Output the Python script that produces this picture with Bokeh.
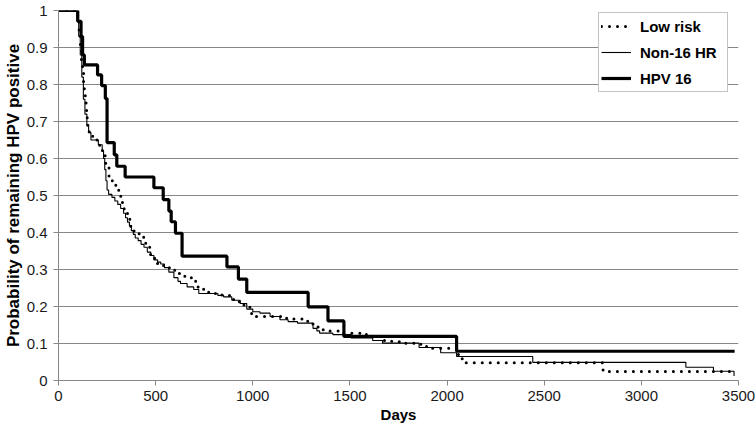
from bokeh.plotting import figure
from bokeh.models import FixedTicker, Range1d, Legend, LegendItem
from bokeh.embed import file_html
from bokeh.resources import INLINE

# ---- data (Kaplan-Meier style step curves) ----
low_days = [0, 99, 106, 113, 118, 124, 129, 133, 138, 142, 146, 150, 158, 167, 184, 200, 212, 226, 240, 243,
            260, 277, 295, 310, 321, 338, 355, 372, 389, 415, 449, 474, 495, 510, 540, 568, 590, 611, 640, 679,
            705, 713, 747, 773, 841, 880, 901, 935, 961, 985, 994, 1157, 1191, 1259, 1285, 1310, 1336, 1378,
            1440, 1583, 1617, 1668, 1703, 1754, 1865, 1899, 2052, 2078, 2095, 2803, 3477]
low_prob = [1.0, 0.97, 0.93, 0.90, 0.86, 0.83, 0.80, 0.78, 0.755, 0.73, 0.71, 0.69, 0.67, 0.66, 0.65, 0.641,
            0.632, 0.614, 0.595, 0.579, 0.552, 0.534, 0.516, 0.498, 0.481, 0.463, 0.436, 0.414, 0.400, 0.387,
            0.360, 0.335, 0.324, 0.315, 0.311, 0.305, 0.298, 0.289, 0.282, 0.278, 0.268, 0.253, 0.244, 0.235,
            0.231, 0.220, 0.213, 0.204, 0.199, 0.185, 0.173, 0.168, 0.166, 0.160, 0.155, 0.148, 0.137, 0.134,
            0.128, 0.124, 0.119, 0.108, 0.106, 0.101, 0.092, 0.087, 0.070, 0.057, 0.048, 0.024, 0.020]

hr_days = [0, 96, 104, 112, 120, 128, 136, 146, 155, 167, 205, 225, 232, 238, 244, 250, 258, 275, 290, 305,
           320, 335, 345, 355, 365, 375, 385, 395, 410, 425, 440, 457, 475, 491, 510, 526, 545, 568, 594, 615,
           628, 662, 696, 722, 820, 850, 892, 935, 969, 1000, 1037, 1089, 1140, 1182, 1230, 1310, 1330, 1344,
           1412, 1506, 1617, 1668, 1856, 1967, 2049, 2441, 3229, 3371, 3477]
hr_prob = [1.0, 0.97, 0.93, 0.88, 0.82, 0.76, 0.72, 0.69, 0.67, 0.650, 0.637, 0.62, 0.60, 0.57, 0.54, 0.515,
           0.503, 0.495, 0.485, 0.476, 0.465, 0.452, 0.440, 0.428, 0.418, 0.405, 0.395, 0.385, 0.378, 0.368,
           0.360, 0.347, 0.338, 0.326, 0.320, 0.315, 0.305, 0.293, 0.278, 0.268, 0.262, 0.253, 0.246, 0.235,
           0.230, 0.226, 0.217, 0.208, 0.193, 0.186, 0.182, 0.173, 0.164, 0.159, 0.155, 0.141, 0.134, 0.128,
           0.124, 0.115, 0.108, 0.101, 0.089, 0.075, 0.065, 0.049, 0.036, 0.025, 0.012]

hpv16_days = [0, 99, 116, 124, 133, 201, 222, 241, 250, 287, 300, 343, 491, 539, 568, 580, 602, 636, 867, 926,
              969, 1285, 1387, 1469, 2049, 3480]
hpv16_prob = [1.0, 0.971, 0.93, 0.88, 0.853, 0.826, 0.797, 0.762, 0.643, 0.610, 0.579, 0.550, 0.521, 0.489,
              0.458, 0.429, 0.398, 0.336, 0.307, 0.274, 0.238, 0.199, 0.161, 0.119, 0.079, 0.079]

series_names = ["Low risk", "Non-16 HR", "HPV 16"]

x_ticks = [0, 500, 1000, 1500, 2000, 2500, 3000, 3500]
y_ticks = [0, 0.1, 0.2, 0.3, 0.4, 0.5, 0.6, 0.7, 0.8, 0.9, 1]
y_tick_labels = ["0", "0.1", "0.2", "0.3", "0.4", "0.5", "0.6", "0.7", "0.8", "0.9", "1"]

FONT = "Liberation Sans"
GREY = "#878787"
TEXT = "#1a1a1a"

p = figure(width=755, height=429, output_backend="svg", toolbar_location=None,
           x_range=Range1d(0, 3500), y_range=Range1d(0, 1),
           min_border_left=54, min_border_right=17, min_border_top=10, min_border_bottom=49)
p.outline_line_color = None
p.background_fill_color = "white"
p.border_fill_color = "white"

r_low = p.step(low_days, low_prob, mode="after", line_color="black", line_width=3,
               line_dash="0 8", line_cap="round")
r_hr = p.step(hr_days, hr_prob, mode="after", line_color="black", line_width=1.1)
r_16 = p.step(hpv16_days, hpv16_prob, mode="after", line_color="black", line_width=3.2)

# axes
p.xaxis.ticker = FixedTicker(ticks=x_ticks)
p.yaxis.ticker = FixedTicker(ticks=y_ticks)
p.yaxis.major_label_overrides = {t: l for t, l in zip(y_ticks, y_tick_labels)}
for ax in (p.xaxis[0], p.yaxis[0]):
    ax.axis_line_color = GREY
    ax.major_tick_line_color = GREY
    ax.minor_tick_line_color = None
    ax.major_tick_in = 0
    ax.major_tick_out = 5
    ax.major_label_text_font = FONT
    ax.major_label_text_font_size = "15px"
    ax.major_label_text_color = TEXT
    ax.axis_label_text_font = FONT
    ax.axis_label_text_font_style = "bold"
    ax.axis_label_text_color = "black"
p.xaxis.axis_label = "Days"
p.yaxis.axis_label = "Probability of remaining HPV positive"
p.xaxis.axis_label_text_font_size = "15px"
p.yaxis.axis_label_text_font_size = "17px"
p.xaxis.major_label_standoff = 5
p.xaxis.axis_label_standoff = 2
p.yaxis.major_label_standoff = 6
p.yaxis.axis_label_standoff = 1

p.xgrid.grid_line_color = None
p.ygrid.grid_line_color = GREY
p.ygrid.grid_line_width = 1

legend = Legend(items=[LegendItem(label=series_names[0], renderers=[r_low]),
                       LegendItem(label=series_names[1], renderers=[r_hr]),
                       LegendItem(label=series_names[2], renderers=[r_16])],
                location=(540, 288))
legend.border_line_color = GREY
legend.border_line_width = 1
legend.background_fill_color = "white"
legend.background_fill_alpha = 1
legend.label_text_font = FONT
legend.label_text_font_style = "bold"
legend.label_text_font_size = "15px"
legend.label_text_color = "black"
legend.glyph_width = 30
legend.glyph_height = 22
legend.label_height = 22
legend.label_width = 85
legend.spacing = 4
legend.padding = 2
legend.label_standoff = 9
legend.margin = 0
p.add_layout(legend, "center")

open("out.html", "w").write(file_html(p, INLINE))
